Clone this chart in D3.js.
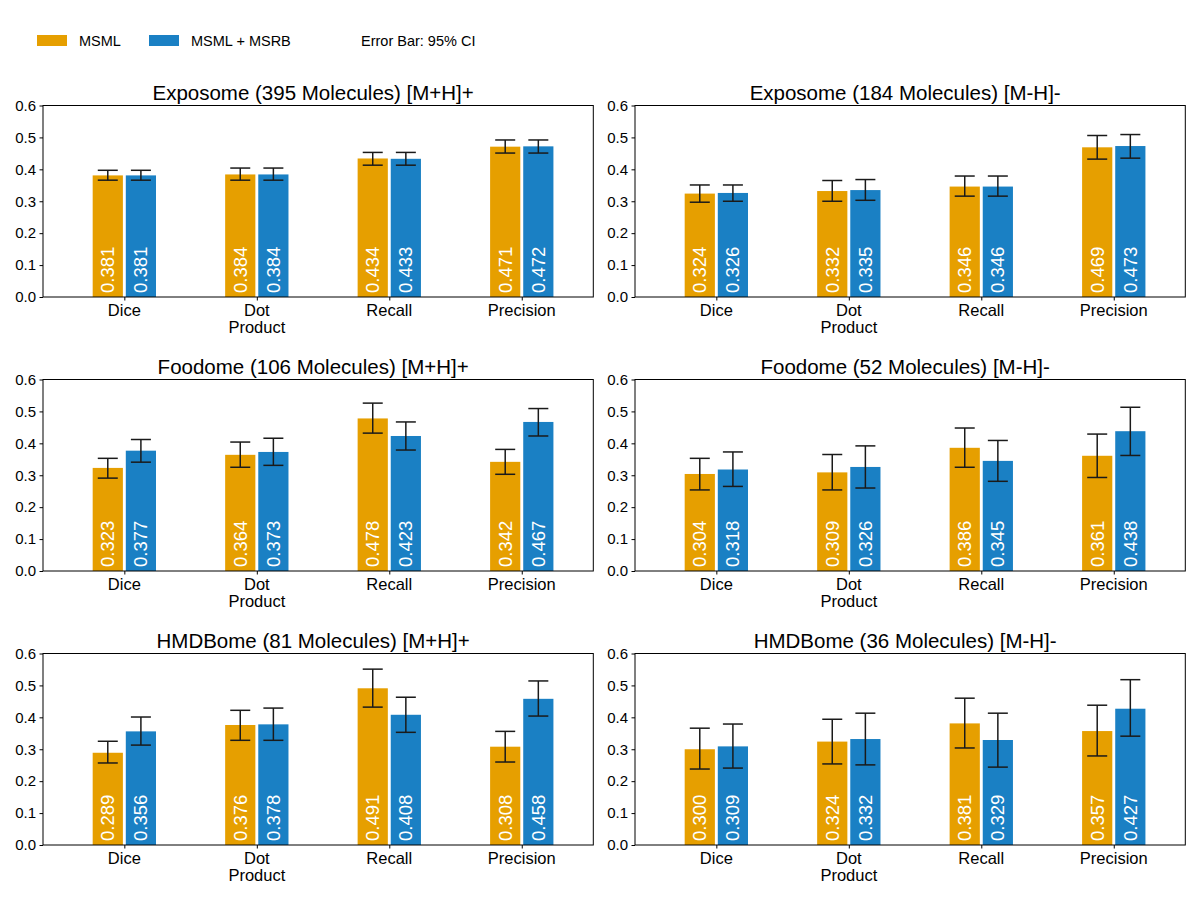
<!DOCTYPE html>
<html>
<head>
<meta charset="utf-8">
<script src="https://cdn.jsdelivr.net/npm/d3@7"></script>
<style>
  html, body { margin: 0; padding: 0; background: #fff; }
  svg { display: block; font-family: "Liberation Sans", Arial, sans-serif; }
</style>
</head>
<body>
<div id="chart"></div>
<script>
// ---------- data ----------
const categories = ["Dice", "Dot\nProduct", "Recall", "Precision"];
const panelTitles = [
  "Exposome (395 Molecules) [M+H]+",
  "Exposome (184 Molecules) [M-H]-",
  "Foodome (106 Molecules) [M+H]+",
  "Foodome (52 Molecules) [M-H]-",
  "HMDBome (81 Molecules) [M+H]+",
  "HMDBome (36 Molecules) [M-H]-"
];
const seriesNames = ["MSML", "MSML + MSRB"];
const legendNote = "Error Bar: 95% CI";
const yTicks = [0.0, 0.1, 0.2, 0.3, 0.4, 0.5, 0.6];

const msml = [
  [0.381, 0.384, 0.434, 0.471],
  [0.324, 0.332, 0.346, 0.469],
  [0.323, 0.364, 0.478, 0.342],
  [0.304, 0.309, 0.386, 0.361],
  [0.289, 0.376, 0.491, 0.308],
  [0.300, 0.324, 0.381, 0.357]
];
const msmlMsrb = [
  [0.381, 0.384, 0.433, 0.472],
  [0.326, 0.335, 0.346, 0.473],
  [0.377, 0.373, 0.423, 0.467],
  [0.318, 0.326, 0.345, 0.438],
  [0.356, 0.378, 0.408, 0.458],
  [0.309, 0.332, 0.329, 0.427]
];
const msmlLow = [
  [0.366, 0.366, 0.413, 0.451],
  [0.297, 0.300, 0.316, 0.432],
  [0.291, 0.325, 0.432, 0.303],
  [0.254, 0.254, 0.325, 0.293],
  [0.257, 0.328, 0.432, 0.260],
  [0.238, 0.254, 0.304, 0.279]
];
const msmlHigh = [
  [0.397, 0.404, 0.453, 0.492],
  [0.351, 0.365, 0.379, 0.506],
  [0.353, 0.404, 0.526, 0.381],
  [0.353, 0.365, 0.448, 0.429],
  [0.325, 0.422, 0.551, 0.356],
  [0.366, 0.394, 0.460, 0.438]
];
const msrbLow = [
  [0.366, 0.366, 0.413, 0.451],
  [0.300, 0.303, 0.316, 0.435],
  [0.341, 0.331, 0.379, 0.423],
  [0.265, 0.260, 0.281, 0.362],
  [0.313, 0.328, 0.353, 0.404],
  [0.241, 0.251, 0.244, 0.341]
];
const msrbHigh = [
  [0.397, 0.404, 0.453, 0.492],
  [0.351, 0.368, 0.379, 0.509],
  [0.412, 0.416, 0.467, 0.509],
  [0.373, 0.392, 0.409, 0.513],
  [0.401, 0.429, 0.463, 0.514],
  [0.379, 0.413, 0.413, 0.518]
];

// ---------- layout / style ----------
const W = 1200, H = 900;
const colors = ["#E69F00", "#1A80C4"];
const colLeft = [43, 635];
const rowTop = [105.5, 379.5, 653.5];
const pw = 550.3, ph = 191.5;
const barW = 0.228, barOff = 0.125;

const svg = d3.select("#chart").append("svg").attr("width", W).attr("height", H);

// legend
const lg = svg.append("g");
const legendX = [37, 149];
seriesNames.forEach((n, i) => {
  lg.append("rect").attr("x", legendX[i]).attr("y", 35).attr("width", 30).attr("height", 11).attr("fill", colors[i]);
  lg.append("text").attr("x", legendX[i] + 42).attr("y", 45.5).attr("font-size", 14.5).attr("fill", "#000").text(n);
});
lg.append("text").attr("x", 361).attr("y", 45.5).attr("font-size", 14.5).attr("fill", "#000").text(legendNote);

panelTitles.forEach((title, p) => {
  const col = p % 2, row = Math.floor(p / 2);
  const g = svg.append("g").attr("transform", `translate(${colLeft[col]},${rowTop[row]})`);
  const x = d3.scaleLinear().domain([-0.614, 3.540]).range([0, pw]);
  const y = d3.scaleLinear().domain([0, 0.6]).range([ph, 0]);

  const series = [
    { vals: msml[p], lo: msmlLow[p], hi: msmlHigh[p], off: -barOff, c: colors[0] },
    { vals: msmlMsrb[p], lo: msrbLow[p], hi: msrbHigh[p], off: barOff, c: colors[1] }
  ];

  series.forEach(s => {
    s.vals.forEach((v, i) => {
      const cx = x(i + s.off);
      const bw = x(barW) - x(0);
      g.append("rect")
        .attr("x", cx - bw / 2).attr("y", y(v))
        .attr("width", bw).attr("height", y(0) - y(v))
        .attr("fill", s.c);
      // value label
      g.append("text")
        .attr("transform", `translate(${cx + 6.5},${y(0) - 4}) rotate(-90)`)
        .attr("font-size", 18.5).attr("fill", "#fff")
        .text(v.toFixed(3));
      // error bar
      const cap = 10;
      const eb = g.append("g").attr("stroke", "#1a1a1a").attr("stroke-width", 1.5);
      eb.append("line").attr("x1", cx).attr("x2", cx).attr("y1", y(s.lo[i])).attr("y2", y(s.hi[i]));
      eb.append("line").attr("x1", cx - cap).attr("x2", cx + cap).attr("y1", y(s.lo[i])).attr("y2", y(s.lo[i]));
      eb.append("line").attr("x1", cx - cap).attr("x2", cx + cap).attr("y1", y(s.hi[i])).attr("y2", y(s.hi[i]));
    });
  });

  // y axis
  const ya = g.append("g").call(d3.axisLeft(y).tickValues(yTicks).tickFormat(d3.format(".1f")).tickSize(3.5).tickPadding(3.5));
  ya.select(".domain").remove();
  ya.selectAll("text").attr("font-size", 15).attr("fill", "#000").attr("font-family", null);
  ya.selectAll("line").attr("stroke", "#000");

  // x axis
  const xa = g.append("g").attr("transform", `translate(0,${ph})`)
    .call(d3.axisBottom(x).tickValues(d3.range(categories.length)).tickFormat("").tickSize(3.5));
  xa.select(".domain").remove();
  xa.selectAll("line").attr("stroke", "#000");
  categories.forEach((c, i) => {
    const lines = c.split("\n");
    const t = g.append("text").attr("x", x(i)).attr("y", ph + 19)
      .attr("text-anchor", "middle").attr("font-size", 16.5).attr("fill", "#000");
    lines.forEach((ln, k) => {
      t.append("tspan").attr("x", x(i)).attr("dy", k === 0 ? 0 : 17).text(ln);
    });
  });

  // frame
  g.append("rect").attr("x", 0).attr("y", 0).attr("width", pw).attr("height", ph)
    .attr("fill", "none").attr("stroke", "#000").attr("stroke-width", 1);

  // title
  g.append("text").attr("x", pw / 2 - 5).attr("y", -6)
    .attr("text-anchor", "middle").attr("font-size", 20.5).attr("fill", "#000").text(title);
});
</script>
</body>
</html>
